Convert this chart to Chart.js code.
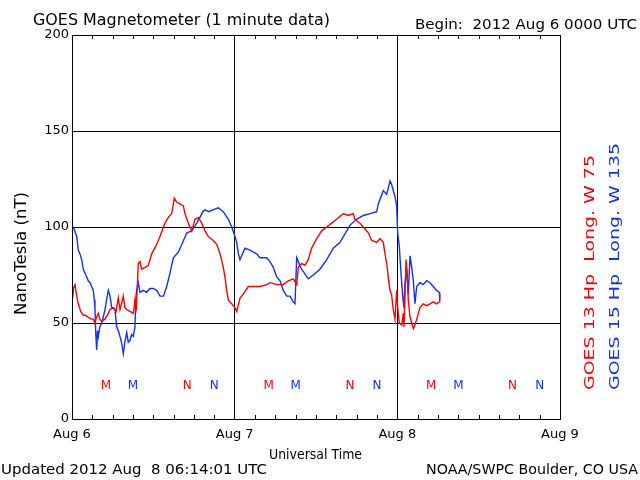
<!DOCTYPE html>
<html>
<head>
<meta charset="utf-8">
<script src="https://cdn.jsdelivr.net/npm/chart.js@4.4.1/dist/chart.umd.min.js"></script>
<style>
body { margin: 0; background: #fff; }
canvas { display: block; }
</style>
</head>
<body>
<canvas id="magChart" width="640" height="480"></canvas>
<script>
// hours since 2012 Aug 6 00:00 UT, values in nT
var g13Hours = [0.1, 0.22, 0.44, 0.69, 0.93, 1.28, 1.67, 2.0, 2.4, 2.8,
    3.14, 3.39, 3.6, 3.88, 4.1, 4.38, 4.87, 5.36, 5.61, 6.09,
    6.5, 6.83, 7.08, 7.3, 7.57, 7.8, 8.07, 8.56, 9.04, 9.29,
    9.5, 9.78, 10.03, 10.28, 10.77, 11.26, 11.76, 12.5, 12.98, 13.72,
    14.21, 14.71, 15.09, 15.45, 15.93, 16.42, 16.67, 17.16, 17.66, 18.15,
    18.63, 19.14, 19.62, 20.11, 20.85, 21.35, 21.84, 22.32, 22.57, 22.82,
    23.06, 23.56, 24.05, 24.3, 24.79, 25.27, 26.01, 27.0, 27.74, 28.72,
    29.21, 30.2, 31.17, 31.91, 32.65, 33.15, 33.39, 33.89, 34.38, 34.86,
    35.36, 36.1, 36.84, 37.58, 38.31, 39.05, 40.03, 40.77, 41.5, 41.75,
    42.49, 43.23, 43.72, 44.22, 44.95, 45.44, 45.93, 46.18, 46.43, 46.66,
    46.91, 47.15, 47.4, 47.65, 47.9, 48.05, 48.29, 48.65, 48.89, 48.99,
    49.29, 49.48, 49.62, 49.87, 50.12, 50.36, 50.6, 50.86, 51.1, 51.34,
    51.83, 52.33, 52.82, 53.3, 53.8, 54.19, 54.25];
var g13Nt = [63, 68, 70, 64, 60, 56, 54, 54, 53, 52,
    52, 50, 53, 55, 52, 51, 52, 55, 57, 58,
    56, 63, 57, 60, 64, 58, 57, 56, 55, 62,
    58, 81, 82, 78, 79, 80, 86, 91, 95, 102,
    105, 107, 115, 113, 112, 111, 107, 102, 98, 104,
    105, 102, 98, 95, 93, 91, 86, 79, 74, 67,
    62, 60, 58, 56, 63, 65, 69, 69, 69, 70,
    71, 70, 70, 72, 73, 70, 79, 81, 80, 83,
    89, 94, 98, 100, 102, 104, 107, 106, 107, 104,
    102, 99, 97, 93, 92, 94, 92, 86, 81, 74,
    67, 65, 57, 52, 67, 58, 50, 49, 55, 48,
    83, 74, 62, 53, 50, 47, 49, 52, 55, 58,
    60, 59, 60, 61, 60, 61, 65];
var g15Hours = [0.1, 0.3, 0.7, 0.93, 1.17, 1.43, 1.67, 1.9, 2.17, 2.4,
    2.66, 2.9, 3.14, 3.3, 3.39, 3.5, 3.64, 3.76, 3.88, 4.1,
    4.38, 4.6, 4.87, 5.1, 5.36, 5.61, 5.86, 6.1, 6.34, 6.59,
    6.83, 7.08, 7.3, 7.57, 7.8, 8.07, 8.3, 8.56, 8.8, 9.04,
    9.29, 9.44, 9.6, 9.78, 10.03, 10.5, 11.0, 11.5, 12.0, 12.5,
    12.98, 13.5, 13.97, 14.46, 14.7, 14.96, 15.7, 16.45, 16.95, 17.66,
    18.4, 18.88, 19.3, 19.62, 20.2, 20.85, 21.58, 22.32, 23.06, 23.56,
    24.05, 24.3, 24.55, 24.79, 25.04, 25.52, 26.26, 26.7, 27.25, 27.74,
    28.72, 29.21, 29.7, 30.2, 30.69, 31.17, 31.68, 32.16, 32.65, 32.9,
    33.15, 33.39, 33.6, 33.88, 34.86, 35.6, 36.59, 37.58, 38.55, 39.54,
    40.53, 41.02, 42.0, 42.98, 43.97, 44.95, 45.19, 45.93, 46.43, 46.92,
    47.17, 47.4, 47.65, 47.9, 48.05, 48.29, 48.5, 48.79, 48.98, 49.13,
    49.38, 49.62, 49.87, 50.12, 50.36, 50.6, 50.86, 51.34, 51.83, 52.33,
    52.82, 53.3, 53.8, 54.19, 54.25];
var g15Nt = [100, 99, 95, 88, 86, 83, 78, 76, 74, 72,
    71, 69, 67, 62, 57, 45, 36, 46, 43, 48,
    50, 53, 57, 62, 67, 64, 58, 58, 57, 48,
    46, 43, 40, 34, 40, 45, 40, 41, 44, 43,
    48, 64, 68, 71, 66, 67, 66, 68, 68, 67,
    64, 64, 69, 76, 80, 84, 87, 93, 97, 98,
    102, 105, 108, 109, 108, 109, 110, 108, 104, 100,
    95, 92, 86, 83, 85, 89, 88, 87, 86, 84,
    84, 82, 79, 74, 72, 67, 64, 64, 61, 60,
    84, 82, 80, 78, 73, 75, 78, 83, 89, 92,
    98, 101, 104, 106, 107, 108, 112, 119, 117, 124,
    122, 119, 116, 111, 97, 90, 78, 64, 58, 71,
    78, 65, 85, 79, 72, 60, 69, 71, 70, 72,
    71, 69, 67, 66, 62];

var dayLabels = ["Aug 6", "Aug 7", "Aug 8", "Aug 9"];
// local midnight (M) and noon (N) hours for each satellite
var g13Midnight = [5, 29, 53];
var g13Noon = [17, 41, 65];
var g15Midnight = [9, 33, 57];
var g15Noon = [21, 45, 69];
var markerLevel = 17;

var RED = "#ff0000";
var BLUE = "#1030ff";
var FONT = "'DejaVu Sans', sans-serif";

function toPoints(hours, values) {
    return hours.map(function (h, i) { return { x: h, y: values[i] }; });
}

// draw text stretched to a measured width; rotated text reads upward
function putText(ctx, str, x, y, width, size, color, rotate) {
    ctx.save();
    ctx.font = size + "px " + FONT;
    ctx.fillStyle = color;
    ctx.textAlign = "left";
    ctx.textBaseline = "alphabetic";
    ctx.translate(x, y);
    if (rotate) ctx.rotate(-Math.PI / 2);
    var w = ctx.measureText(str).width;
    ctx.scale(width / w, 1);
    ctx.fillText(str, 0, 0);
    ctx.restore();
}

var framePlugin = {
    id: "frame",
    afterDraw: function (chart) {
        var ctx = chart.ctx;
        var a = chart.chartArea;
        var xs = chart.scales.x;
        var ys = chart.scales.y;
        ctx.save();
        ctx.strokeStyle = "#000";
        ctx.lineWidth = 1;
        ctx.strokeRect(Math.round(a.left) + 0.5, Math.round(a.top) + 0.5,
            Math.round(a.right - a.left), Math.round(a.bottom - a.top));
        // inward minor ticks every 3 hours
        ctx.beginPath();
        xs.ticks.forEach(function (t) {
            if (t.value % 24 === 0) return;
            var px = Math.round(xs.getPixelForValue(t.value)) + 0.5;
            ctx.moveTo(px, a.top);
            ctx.lineTo(px, a.top + 4);
            ctx.moveTo(px, a.bottom);
            ctx.lineTo(px, a.bottom - 4);
        });
        ctx.stroke();

        // M / N markers
        ctx.font = "12px " + FONT;
        ctx.textAlign = "center";
        ctx.textBaseline = "middle";
        var my = ys.getPixelForValue(markerLevel);
        function marks(list, letter, color) {
            ctx.fillStyle = color;
            list.forEach(function (h) {
                ctx.fillText(letter, xs.getPixelForValue(h), my);
            });
        }
        marks(g13Midnight, "M", RED);
        marks(g13Noon, "N", RED);
        marks(g15Midnight, "M", BLUE);
        marks(g15Noon, "N", BLUE);
        ctx.restore();

        putText(ctx, "GOES Magnetometer (1 minute data)", 33, 25, 297, 15, "#000");
        putText(ctx, "Begin:  2012 Aug 6 0000 UTC", 415, 29, 222, 14, "#000");
        putText(ctx, "Universal Time", 269, 459, 93, 14, "#000");
        putText(ctx, "Updated 2012 Aug  8 06:14:01 UTC", 1, 474, 266, 14, "#000");
        putText(ctx, "NOAA/SWPC Boulder, CO USA", 426, 474, 212, 14, "#000");
        putText(ctx, "NanoTesla (nT)", 26, 315, 123, 15, "#000", true);
        putText(ctx, "GOES 13 Hp  Long. W 75", 594, 390, 235, 14, RED, true);
        putText(ctx, "GOES 15 Hp  Long. W 135", 619, 390, 247, 14, BLUE, true);
    }
};

new Chart(document.getElementById("magChart").getContext("2d"), {
    type: "line",
    data: {
        datasets: [
            {
                label: "GOES 13",
                data: toPoints(g13Hours, g13Nt),
                borderColor: RED,
                borderWidth: 1.4,
                pointRadius: 0,
                tension: 0,
            },
            {
                label: "GOES 15",
                data: toPoints(g15Hours, g15Nt),
                borderColor: BLUE,
                borderWidth: 1.4,
                pointRadius: 0,
                tension: 0,
            },
        ],
    },
    plugins: [framePlugin],
    options: {
        responsive: false,
        animation: false,
        devicePixelRatio: 1,
        layout: { padding: { left: 0, top: 35, right: 80, bottom: 0 } },
        plugins: {
            legend: { display: false },
            tooltip: { enabled: false },
        },
        scales: {
            x: {
                type: "linear",
                min: 0,
                max: 72,
                afterFit: function (scale) { scale.height = 61; },
                ticks: {
                    stepSize: 3,
                    autoSkip: false,
                    maxRotation: 0,
                    padding: 8,
                    color: "#000",
                    font: { family: FONT, size: 13 },
                    callback: function (v) {
                        return v % 24 === 0 ? dayLabels[v / 24] : "";
                    },
                },
                grid: {
                    drawTicks: false,
                    color: function (c) {
                        return c.tick && c.tick.value % 24 === 0 ? "#000" : "rgba(0,0,0,0)";
                    },
                },
                border: { color: "#000" },
            },
            y: {
                min: 0,
                max: 200,
                afterFit: function (scale) { scale.width = 72; },
                ticks: {
                    stepSize: 50,
                    padding: 3,
                    color: "#000",
                    font: { family: FONT, size: 13 },
                },
                grid: { drawTicks: false, color: "#000" },
                border: { color: "#000" },
            },
        },
    },
});
</script>
</body>
</html>
